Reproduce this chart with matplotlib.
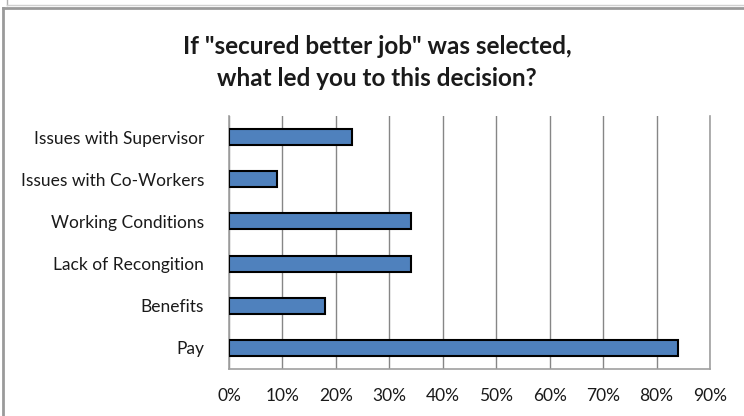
import matplotlib.pyplot as plt
from matplotlib.lines import Line2D
from matplotlib.ticker import FuncFormatter

# survey answers, bottom to top
reasons = ["Pay", "Benefits", "Lack of Recongition", "Working Conditions",
           "Issues with Co-Workers", "Issues with Supervisor"]
shares = [84, 18, 34, 34, 9, 23]
x_ticks = [0, 10, 20, 30, 40, 50, 60, 70, 80, 90]

plt.rcParams['font.family'] = ['Lato', 'DejaVu Sans']

fig = plt.figure(figsize=(7.44, 4.16), dpi=100)
W, H = 744, 416
ax = fig.add_axes([229 / W, 1 - 369 / H, (710 - 229) / W, (369 - 116) / H])

ax.barh(range(len(reasons)), shares, height=0.38, color="#4F81BD",
        edgecolor="black", linewidth=1.5, zorder=3)

ax.set_xlim(0, 90)
ax.set_ylim(-0.5, len(reasons) - 0.5)
ax.set_xticks(x_ticks)
ax.xaxis.set_major_formatter(FuncFormatter(lambda v, p: f"{v:.0f}%"))
ax.set_yticks(range(len(reasons)))
ax.set_yticklabels(reasons)
ax.tick_params(axis="both", length=0, labelsize=12.5, colors="#1a1a1a")
ax.tick_params(axis="x", pad=14)
ax.tick_params(axis="y", pad=18)
ax.grid(axis="x", color="#868686", linewidth=1.0, zorder=0)
for s in ax.spines.values():
    s.set_color("#a0a0a0")
    s.set_linewidth(1.2)
ax.spines["top"].set_visible(False)

fig.text(377 / W, 1 - 54 / H, 'If "secured better job" was selected,',
         ha="center", va="baseline", fontsize=17.5, fontweight="bold",
         color="#1a1a1a")
fig.text(377 / W, 1 - 86 / H, "what led you to this decision?",
         ha="center", va="baseline", fontsize=17.5, fontweight="bold",
         color="#1a1a1a")

# outer chart border
fig.add_artist(Line2D([3 / W, 1], [1 - 8 / H, 1 - 8 / H], color="#9a9a9a",
                      linewidth=2, transform=fig.transFigure))
fig.add_artist(Line2D([3 / W, 3 / W], [0, 1 - 8 / H], color="#9a9a9a",
                      linewidth=2, transform=fig.transFigure))
fig.add_artist(Line2D([7 / W, 7 / W], [1 - 5 / H, 1], color="#b0b0b0",
                      linewidth=1, transform=fig.transFigure))
fig.add_artist(Line2D([7 / W, 1], [1 - 5 / H, 1 - 5 / H], color="#d0d0d0",
                      linewidth=1, transform=fig.transFigure))

fig.savefig("out.png", dpi=100)
